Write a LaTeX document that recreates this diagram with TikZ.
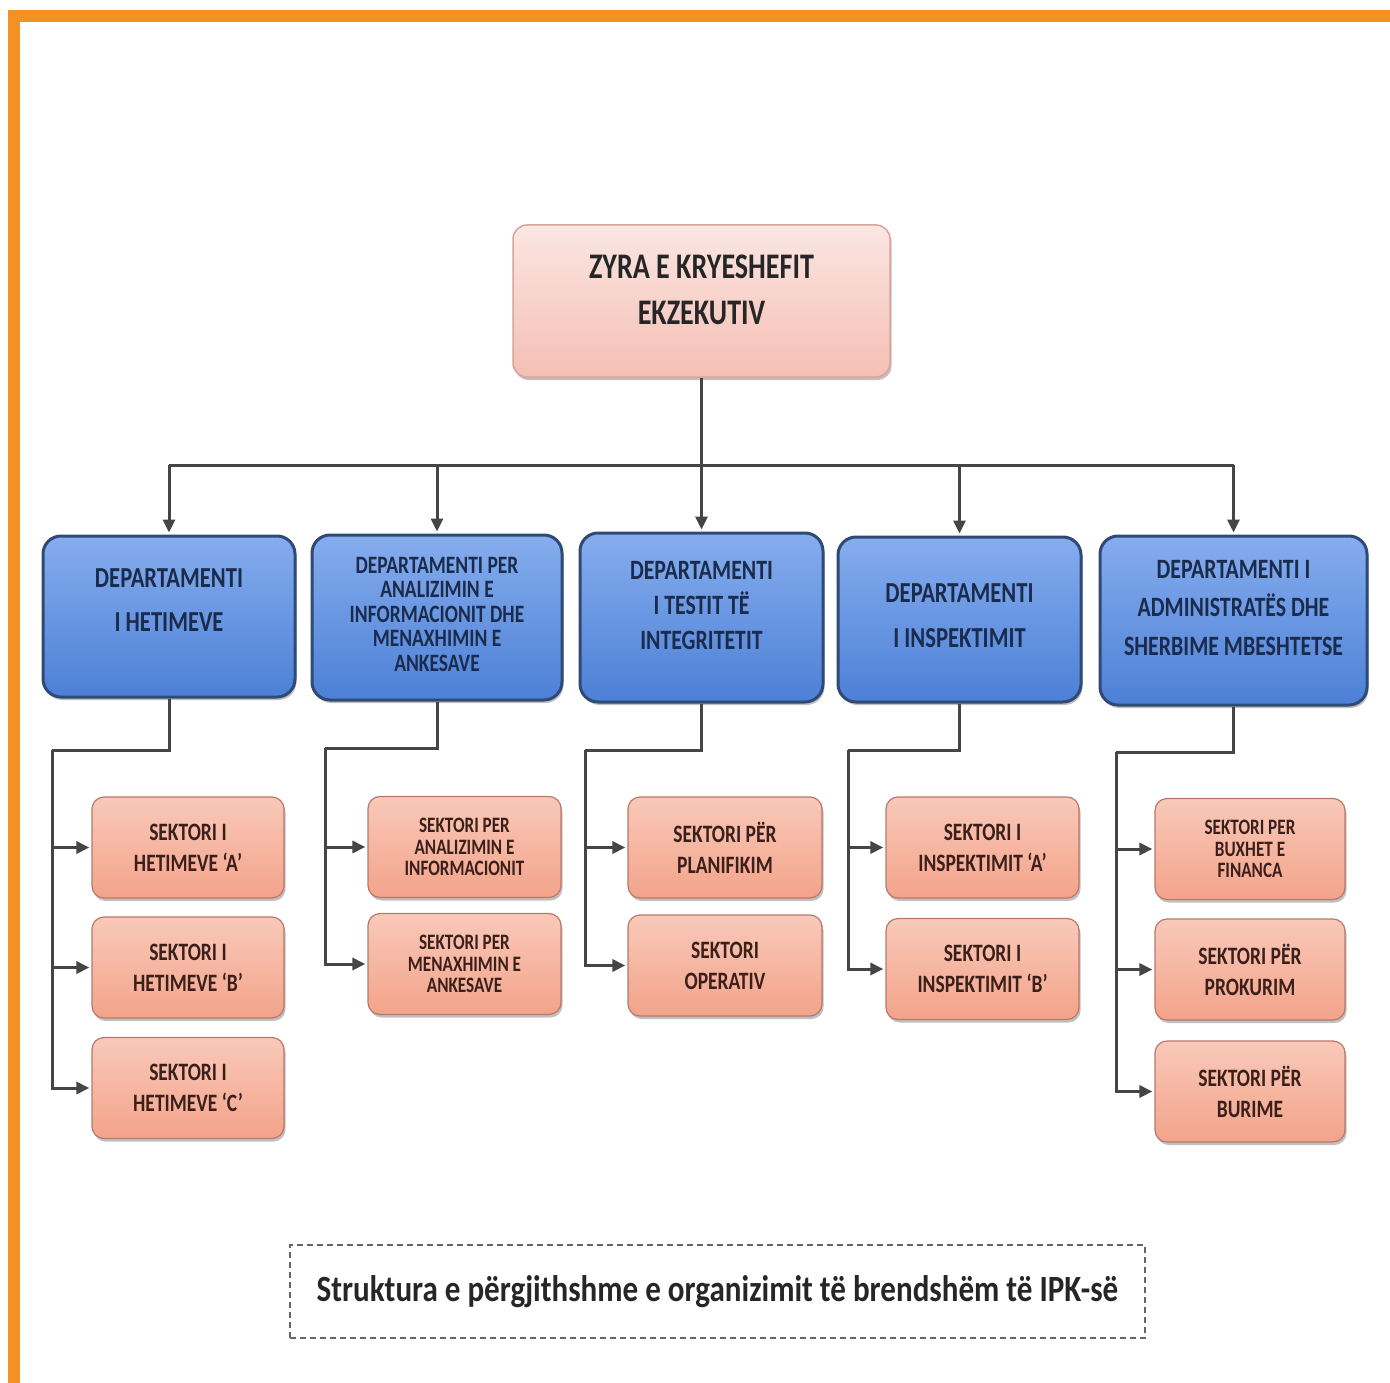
\documentclass[tikz,border=0pt]{standalone}
\usepackage{fontspec}
\setmainfont{Carlito}
\newfontfamily\boxfont[FakeStretch=0.78]{Carlito}
\newfontfamily\capfont[FakeStretch=0.84]{Carlito}
\usetikzlibrary{arrows.meta,shadows}
\definecolor{orangebar}{HTML}{F39220}
\definecolor{linegray}{HTML}{454545}
\definecolor{bluetop}{HTML}{86ADEE}
\definecolor{bluebot}{HTML}{4C80D6}
\definecolor{blueedge}{HTML}{2F4A75}
\definecolor{bluetext}{HTML}{1B2B4B}
\definecolor{pinktop}{HTML}{F9C9B9}
\definecolor{pinkmid}{HTML}{F8B8A3}
\definecolor{pinkbot}{HTML}{F3A38A}
\definecolor{pinkedge}{HTML}{B9786A}
\definecolor{pinktext}{HTML}{3B1F1A}
\definecolor{toptop}{HTML}{FBE6E2}
\definecolor{topbot}{HTML}{F4BFB4}
\definecolor{topedge}{HTML}{D9A59B}
\tikzset{
  boxshadow/.style={drop shadow={shadow xshift=1.5pt, shadow yshift=-3pt, opacity=0.45, fill=black!55}},
  topbox/.style={rounded corners=14pt, draw=topedge, line width=1.5pt,
    top color=toptop, bottom color=topbot, inner sep=0pt, boxshadow},
  toptext/.style={align=center, text=black!85, inner sep=0pt,
    font=\boxfont\bfseries\fontsize{36}{46}\selectfont},
  deptbox/.style={rounded corners=18pt, draw=blueedge, line width=3pt,
    top color=bluetop, bottom color=bluebot, inner sep=0pt, boxshadow},
  depttext/.style={align=center, text=bluetext, inner sep=0pt,
    font=\boxfont\bfseries\fontsize{29}{42}\selectfont},
  sectbox/.style={rounded corners=12pt, draw=pinkedge, line width=1.2pt,
    top color=pinktop, middle color=pinkmid, bottom color=pinkbot,
    align=center, text=pinktext, inner sep=0pt, boxshadow,
    minimum height=101pt,
    font=\boxfont\bfseries\fontsize{25}{31}\selectfont},
  small3/.style={font=\boxfont\bfseries\fontsize{22}{21.5}\selectfont},
  conn/.style={draw=linegray, line width=3pt},
  arr/.style={conn, -{Triangle[length=13pt,width=12pt]}, shorten >=2pt},
}
\begin{document}
\begin{tikzpicture}[x=1pt,y=-1pt]
\useasboundingbox (0,0) rectangle (1390,1383);
% orange frame
\fill[orangebar] (8,10) rectangle (1390,22);
\fill[orangebar] (8,10) rectangle (20,1383);

% top
\node[topbox, minimum width=377pt, minimum height=152pt] (top) at (701.5,301) {};
\node[toptext] (topt) at (701.5,290) {ZYRA E KRYESHEFIT\\EKZEKUTIV};

% departments
\node[deptbox, minimum width=252pt, minimum height=161pt] (d1) at (169,616.5) {};
\node[depttext, font=\boxfont\bfseries\fontsize{29}{44}\selectfont] (d1t) at (169,600) {DEPARTAMENTI\\I HETIMEVE};
\node[deptbox, minimum width=250pt, minimum height=165pt] (d2) at (437,617.5) {};
\node[depttext, font=\boxfont\bfseries\fontsize{25}{24.5}\selectfont] (d2t) at (437,614) {DEPARTAMENTI PER\\ANALIZIMIN E\\INFORMACIONIT DHE\\MENAXHIMIN E\\ANKESAVE};
\node[deptbox, minimum width=243pt, minimum height=169pt] (d3) at (701.5,617.5) {};
\node[depttext, font=\boxfont\bfseries\fontsize{28}{35}\selectfont] (d3t) at (701.5,606) {DEPARTAMENTI\\I TESTIT TË\\INTEGRITETIT};
\node[deptbox, minimum width=243pt, minimum height=165pt] (d4) at (959.5,619.5) {};
\node[depttext, font=\boxfont\bfseries\fontsize{29}{45}\selectfont] (d4t) at (959.5,616) {DEPARTAMENTI\\I INSPEKTIMIT};
\node[deptbox, minimum width=267pt, minimum height=169pt] (d5) at (1233.5,620.5) {};
\node[depttext, font=\boxfont\bfseries\fontsize{28}{38.5}\selectfont] (d5t) at (1233.5,608) {DEPARTAMENTI I\\ADMINISTRATËS DHE\\SHERBIME MBESHTETSE};

% sectors column 1
\node[sectbox, minimum width=192pt] (s1a) at (188,847.5) {SEKTORI I\\HETIMEVE ‘A’};
\node[sectbox, minimum width=192pt] (s1b) at (188,967.5) {SEKTORI I\\HETIMEVE ‘B’};
\node[sectbox, minimum width=192pt] (s1c) at (188,1088) {SEKTORI I\\HETIMEVE ‘C’};
% column 2
\node[sectbox, small3, minimum width=193pt] (s2a) at (464.5,847) {SEKTORI PER\\ANALIZIMIN E\\INFORMACIONIT};
\node[sectbox, small3, minimum width=193pt] (s2b) at (464.5,964) {SEKTORI PER\\MENAXHIMIN E\\ANKESAVE};
% column 3
\node[sectbox, minimum width=194pt] (s3a) at (725,847.5) {SEKTORI PËR\\PLANIFIKIM};
\node[sectbox, minimum width=194pt] (s3b) at (725,965.5) {SEKTORI\\OPERATIV};
% column 4
\node[sectbox, minimum width=193pt] (s4a) at (982.5,847.5) {SEKTORI I\\INSPEKTIMIT ‘A’};
\node[sectbox, minimum width=193pt] (s4b) at (982.5,969) {SEKTORI I\\INSPEKTIMIT ‘B’};
% column 5
\node[sectbox, small3, minimum width=190pt] (s5a) at (1250,849) {SEKTORI PER\\BUXHET E\\FINANCA};
\node[sectbox, minimum width=190pt] (s5b) at (1250,969.5) {SEKTORI PËR\\PROKURIM};
\node[sectbox, minimum width=190pt] (s5c) at (1250,1091.5) {SEKTORI PËR\\BURIME};

% top-level connectors
\coordinate (bus) at (701.5,465);
\draw[conn] (d1.north |- bus) -- (d5.north |- bus);
\draw[arr] (top.south) -- (d3.north);
\draw[arr] (d1.north |- bus) -- (d1.north);
\draw[arr] (d2.north |- bus) -- (d2.north);
\draw[arr] (d4.north |- bus) -- (d4.north);
\draw[arr] (d5.north |- bus) -- (d5.north);

% column connectors
\coordinate (e1) at (52,750);
\coordinate (e2) at (325,748);
\coordinate (e3) at (585,750);
\coordinate (e4) at (848,750);
\coordinate (e5) at (1116,752);

\draw[conn] (d1.south) |- (e1);
\draw[arr] (e1) |- (s1a.west);
\draw[arr] (e1) |- (s1b.west);
\draw[arr] (e1) |- (s1c.west);

\draw[conn] (d2.south) |- (e2);
\draw[arr] (e2) |- (s2a.west);
\draw[arr] (e2) |- (s2b.west);

\draw[conn] (d3.south) |- (e3);
\draw[arr] (e3) |- (s3a.west);
\draw[arr] (e3) |- (s3b.west);

\draw[conn] (d4.south) |- (e4);
\draw[arr] (e4) |- (s4a.west);
\draw[arr] (e4) |- (s4b.west);

\draw[conn] (d5.south) |- (e5);
\draw[arr] (e5) |- (s5a.west);
\draw[arr] (e5) |- (s5b.west);
\draw[arr] (e5) |- (s5c.west);

% caption
\node[draw=black!60, line width=2pt, dash pattern=on 6pt off 4pt,
  minimum width=855pt, minimum height=93pt, inner sep=0pt,
  font=\capfont\bfseries\fontsize{37}{42}\selectfont, text=black!85]
  (cap) at (717.5,1291.5) {Struktura e përgjithshme e organizimit të brendshëm të IPK-së};
\end{tikzpicture}
\end{document}
